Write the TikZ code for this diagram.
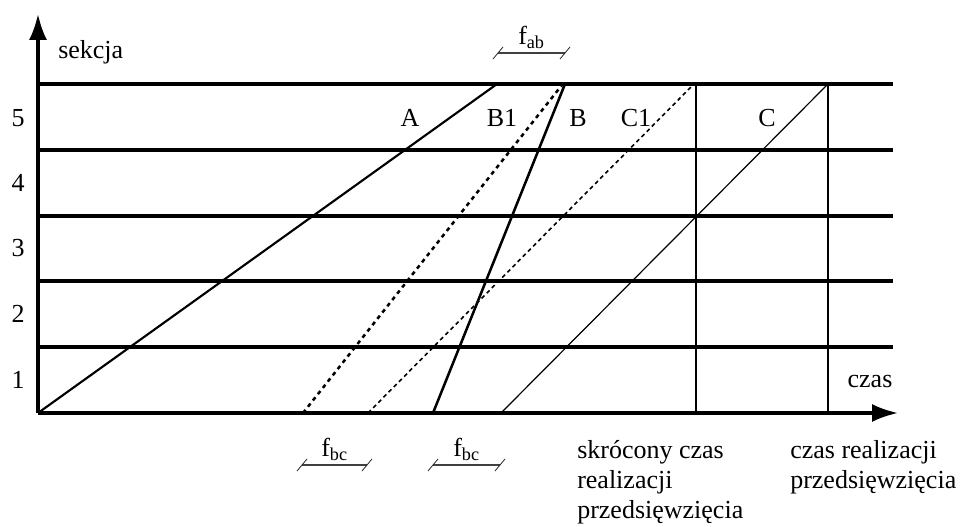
\documentclass[tikz,border=0pt]{standalone}
\usepackage{fontspec}
\setmainfont{Liberation Serif}
\usetikzlibrary{arrows.meta, positioning}
\tikzstyle{axis} = [line width=2.3pt, -{Latex[length=19.5pt,width=13.5pt]}]
\tikzstyle{sectionline} = [line width=2.3pt]
\tikzstyle{timeline} = [line width=1.6pt]
\tikzstyle{txt} = [inner sep=0pt, font=\fontsize{19.5}{22.5}\selectfont]
\tikzstyle{dimline} = [line width=0.8pt, black!75]
\tikzstyle{dimtick} = [line width=0.6pt, black!85]

\begin{document}
\begin{tikzpicture}[x=0.75pt, y=-0.75pt]
  \useasboundingbox (0,0) rectangle (967,527);
  % Section lines
  \foreach \y in {84,150,216,281,347}
    \draw[sectionline] (38,\y) -- (893,\y);
  \foreach \n/\y in {5/118,4/183,3/248,2/314,1/380}
    \node[txt] (s\n) at (18,\y) {\n};

  % Axes
  \coordinate (O) at (38,413);
  \coordinate (yend) at (38,14);
  \coordinate (xend) at (898,413);
  \draw[axis] (O) -- (yend);
  \draw[axis] (O) -- (xend);
  \node[txt, anchor=west] (ylab) at (58,52) {sekcja};
  \node[txt] (xlab) at (870,382) {czas};

  % Work lines
  \coordinate (a0) at (38,413);  \coordinate (a1) at (497,84);
  \coordinate (b10) at (303,413); \coordinate (b11) at (562,85);
  \coordinate (b0) at (433,413);  \coordinate (b1) at (565,84);
  \coordinate (c10) at (368,413); \coordinate (c11) at (692,86);
  \coordinate (c0) at (501,413);  \coordinate (c1) at (828,84);
  \draw[line width=1.6pt] (a0) -- (a1);
  \draw[line width=1.9pt, dash pattern=on 3pt off 3pt] (b10) -- (b11);
  \draw[line width=1.9pt] (b0) -- (b1);
  \draw[line width=1.2pt, dash pattern=on 3pt off 2.5pt] (c10) -- (c11);
  \draw[line width=0.9pt] (c0) -- (c1);
  \node[txt] (A) at (410,118) {A};
  \node[txt] (B1) at (502,118) {B1};
  \node[txt] (B) at (578,118) {B};
  \node[txt] (C1) at (636,118) {C1};
  \node[txt] (C) at (767,118) {C};

  % Completion times
  \draw[timeline] (696,84) -- (696,413);
  \draw[timeline] (828,84) -- (828,413);
  \node[txt, anchor=north west, align=left] (tshort) at (577,440)
    {skrócony czas\\realizacji\\przedsięwzięcia};
  \node[txt, anchor=north west, align=left] (tfull) at (790,440)
    {czas realizacji\\przedsięwzięcia};

  % Shifts
  \foreach \xa/\xb/\y/\s in {498/565/53/ab, 302/367/465/bc, 433/500/465/bc}{
    \draw[dimline] (\xa,\y) -- (\xb,\y);
    \draw[dimtick] (\xa-5,\y+6) -- (\xa+5,\y-6);
    \draw[dimtick] (\xb-5,\y+6) -- (\xb+5,\y-6);
    \node[txt, above=3pt] at ({(\xa+\xb)/2},\y) {f\textsubscript{\s}};
  }
\end{tikzpicture}
\end{document}
